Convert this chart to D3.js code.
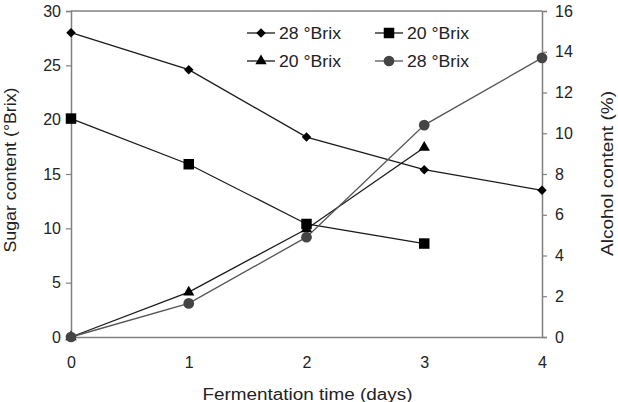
<!DOCTYPE html>
<html>
<head>
<meta charset="utf-8">
<script src="https://cdn.jsdelivr.net/npm/d3@7"></script>
<style>
  body { margin: 0; background: #fff; }
  text { font-family: "Liberation Sans", Arial, sans-serif; }
</style>
</head>
<body>
<svg id="chart" width="618" height="402"></svg>
<script>
'use strict';

const days = [0, 1, 2, 3, 4];
const xTicks = [0, 1, 2, 3, 4];
const sugarTicks = [0, 5, 10, 15, 20, 25, 30];
const alcoholTicks = [0, 2, 4, 6, 8, 10, 12, 14, 16];

// sugar content (left axis)
const sugar28 = [28.0, 24.6, 18.4, 15.4, 13.5];
const sugar20 = [20.1, 15.9, 10.4, 8.6];
// alcohol content (right axis)
const alcohol20 = [0, 2.2, 5.3, 9.3];
const alcohol28 = [0, 1.65, 4.9, 10.4, 13.7];

const legendLabels = ['28 °Brix', '20 °Brix', '20 °Brix', '28 °Brix'];

const margin = {top: 11, right: 76, bottom: 65, left: 71};
const width = 618, height = 402;

const svg = d3.select('#chart');

const x = d3.scaleLinear().domain([0, 4]).range([margin.left, width - margin.right]);
const yL = d3.scaleLinear().domain([0, 30]).range([height - margin.bottom, margin.top]);
const yR = d3.scaleLinear().domain([0, 16]).range([height - margin.bottom, margin.top]);

const axisColor = '#808080';
const labelColor = '#222';

// frame top line
svg.append('line')
    .attr('x1', x(0)).attr('x2', x(4))
    .attr('y1', yL(30)).attr('y2', yL(30))
    .attr('stroke', axisColor).attr('stroke-width', 1.5);

// left axis
let gL = svg.append('g')
    .attr('transform', `translate(${x(0)},0)`)
    .call(d3.axisLeft(yL).tickValues(sugarTicks).tickSize(5).tickPadding(5));
// right axis
let gR = svg.append('g')
    .attr('transform', `translate(${x(4)},0)`)
    .call(d3.axisRight(yR).tickValues(alcoholTicks).tickSize(5).tickPadding(8));
// bottom axis
let gB = svg.append('g')
    .attr('transform', `translate(0,${yL(0)})`)
    .call(d3.axisBottom(x).tickValues(xTicks).tickFormat(d3.format('d')).tickSize(0).tickPadding(20));

[gL, gR, gB].forEach(g => {
    g.select('.domain').attr('stroke', axisColor).attr('stroke-width', 1.5);
    g.selectAll('.tick line').attr('stroke', axisColor).attr('stroke-width', 1.2);
    g.selectAll('.tick text')
        .attr('fill', labelColor)
        .style('font-size', '16px')
        .style('font-family', '"Liberation Sans", Arial, sans-serif');
});

// axis titles
svg.append('text')
    .attr('transform', 'translate(15.5,170) rotate(-90)')
    .attr('text-anchor', 'middle')
    .attr('font-size', '16px')
    .attr('textLength', 165)
    .attr('lengthAdjust', 'spacingAndGlyphs')
    .attr('fill', labelColor)
    .text('Sugar content (°Brix)');

svg.append('text')
    .attr('transform', 'translate(613,173.5) rotate(-90)')
    .attr('text-anchor', 'middle')
    .attr('font-size', '16px')
    .attr('textLength', 165)
    .attr('lengthAdjust', 'spacingAndGlyphs')
    .attr('fill', labelColor)
    .text('Alcohol content (%)');

svg.append('text')
    .attr('x', 307.5)
    .attr('y', 400)
    .attr('text-anchor', 'middle')
    .attr('font-size', '16px')
    .attr('textLength', 210)
    .attr('lengthAdjust', 'spacingAndGlyphs')
    .attr('fill', labelColor)
    .text('Fermentation time (days)');

// series definitions (diamond = square turned 45°)
const series = [
    {values: sugar28, y: yL, shape: d3.symbolSquare, rot: 45, size: 45, color: '#000', line: '#1a1a1a', label: legendLabels[0]},
    {values: sugar20, y: yL, shape: d3.symbolSquare, rot: 0, size: 110, color: '#000', line: '#1a1a1a', label: legendLabels[1]},
    {values: alcohol20, y: yR, shape: d3.symbolTriangle, rot: 0, size: 55, color: '#000', line: '#1a1a1a', label: legendLabels[2]},
    {values: alcohol28, y: yR, shape: d3.symbolCircle, rot: 0, size: 90, color: '#444', line: '#555', label: legendLabels[3]}
];

const line = yScale => d3.line()
    .x((d, i) => x(days[i]))
    .y(d => yScale(d));

// draw lines, then markers
series.forEach(s => {
    svg.append('path')
        .datum(s.values)
        .attr('d', line(s.y))
        .attr('fill', 'none')
        .attr('stroke', s.line)
        .attr('stroke-width', 1.3);
});

series.forEach(s => {
    svg.selectAll(null)
        .data(s.values)
        .enter().append('path')
        .attr('d', d3.symbol().type(s.shape).size(s.size))
        .attr('transform', (d, i) => `translate(${x(days[i])},${s.y(d)}) rotate(${s.rot})`)
        .attr('fill', s.color);
});

// legend
const legendPos = [
    {lx: 247, ly: 33}, {lx: 375, ly: 33},
    {lx: 247, ly: 61}, {lx: 375, ly: 61}
];
series.forEach((s, i) => {
    const p = legendPos[i];
    svg.append('line')
        .attr('x1', p.lx).attr('x2', p.lx + 28)
        .attr('y1', p.ly).attr('y2', p.ly)
        .attr('stroke', s.line).attr('stroke-width', 1.3);
    svg.append('path')
        .attr('d', d3.symbol().type(s.shape).size(s.size))
        .attr('transform', `translate(${p.lx + 14},${p.ly}) rotate(${s.rot})`)
        .attr('fill', s.color);
    svg.append('text')
        .attr('x', p.lx + 32)
        .attr('y', p.ly + 6)
        .attr('font-size', '16px')
        .attr('textLength', 62)
        .attr('lengthAdjust', 'spacingAndGlyphs')
        .attr('fill', labelColor)
        .text(s.label);
});
</script>
</body>
</html>
